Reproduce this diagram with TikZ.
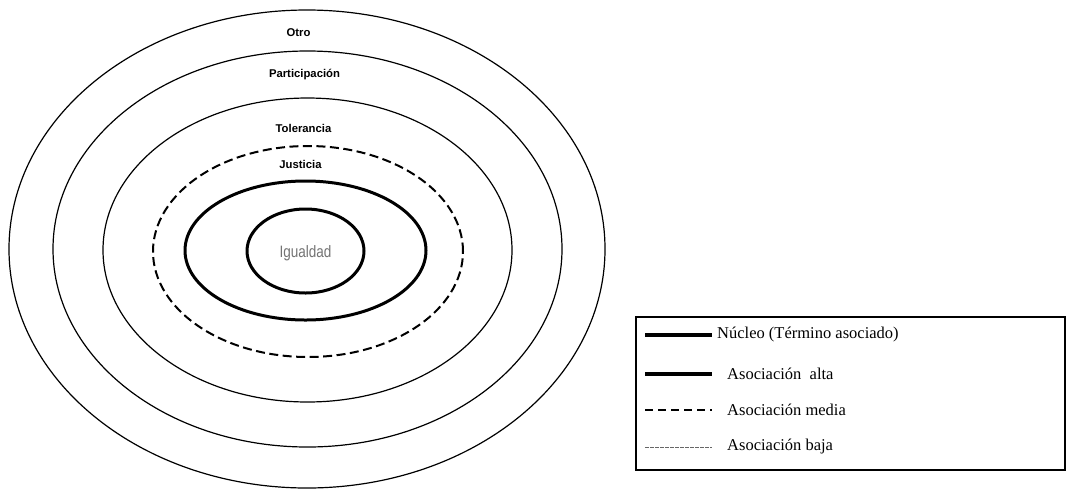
\documentclass[tikz,border=0pt]{standalone}
\usepackage{fontspec}
\setmainfont{Liberation Serif}
\newfontfamily\lblfont{Liberation Sans}
\newfontfamily\corefont[FakeStretch=0.82]{Liberation Sans}
\usetikzlibrary{shapes.geometric}
\begin{document}
\begin{tikzpicture}[x=1pt,y=-1pt,
  ring/.style={ellipse, draw, inner sep=0pt, line width=1.2pt},
  ringhigh/.style={ellipse, draw, inner sep=0pt, line width=3pt},
  ringmid/.style={ellipse, draw, inner sep=0pt, line width=2pt, dash pattern=on 9pt off 4.5pt},
  ringlbl/.style={font=\lblfont\bfseries\fontsize{11.3}{12}\selectfont, inner sep=0pt},
  legtxt/.style={font=\fontsize{16.5}{18}\selectfont, anchor=west, inner sep=0pt},
  legbox/.style={draw, line width=1.3pt, inner sep=0pt}
]
\useasboundingbox (0,0) rectangle (1067,491);

% rings
\node[ring, minimum width=596pt, minimum height=478pt] (otro) at (307,249) {};
\node[ring, minimum width=509pt, minimum height=396pt] (part) at (307.5,249) {};
\node[ring, minimum width=409pt, minimum height=304pt] (tol) at (307.5,250) {};
\node[ringmid, minimum width=310pt, minimum height=211pt] (just) at (308,251.5) {};
\node[ringhigh, minimum width=241pt, minimum height=139pt] (alta) at (305.5,250.5) {};
\node[ringhigh, minimum width=117pt, minimum height=84pt] (nucleo) at (305.5,251) {};

% ring labels
\node[ringlbl] (lotro) at (298.5,33) {Otro};
\node[ringlbl] (lpart) at (304.5,75) {Participación};
\node[ringlbl] (ltol) at (303.5,128) {Tolerancia};
\node[ringlbl] (ljust) at (300.5,164) {Justicia};
\node[font=\corefont\fontsize{16.5}{17}\selectfont, text=black!55, inner sep=0pt] (ligual) at (305.5,253) {Igualdad};

% legend
\node[legbox, minimum width=429pt, minimum height=153pt] (legend) at (850.5,393.5) {};
\coordinate (a1) at (645,335); \coordinate (b1) at (712,335);
\coordinate (a2) at (645,374); \coordinate (b2) at (712,374);
\coordinate (a3) at (645,410); \coordinate (b3) at (712,410);
\coordinate (a4) at (645,447); \coordinate (b4) at (712,447);
\draw[line width=4pt] (a1) -- (b1);
\draw[line width=3.3pt] (a2) -- (b2);
\draw[line width=2pt, dash pattern=on 8pt off 5pt] (a3) -- (b3);
\draw[line width=0.8pt, black!60, dash pattern=on 4pt off 1pt] (a4) -- (b4);
\node[legtxt] (t1) at (717,335) {Núcleo (Término asociado)};
\node[legtxt] (t2) at (727,374) {Asociación\ \ alta};
\node[legtxt] (t3) at (727,410) {Asociación media};
\node[legtxt] (t4) at (727,447) {Asociación baja};
\end{tikzpicture}
\end{document}
